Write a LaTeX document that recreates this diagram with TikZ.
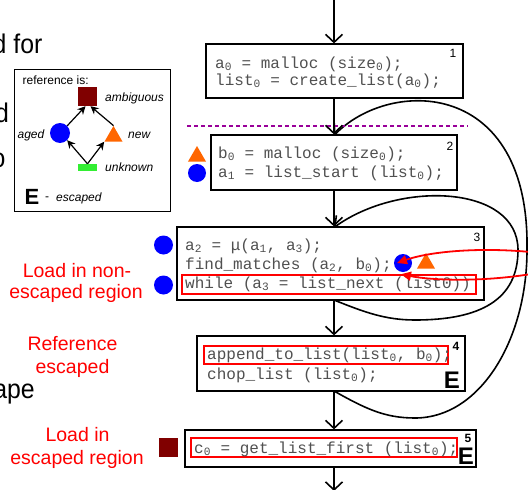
\documentclass[tikz,border=0pt]{standalone}
\usepackage{fontspec}
\setmainfont{Liberation Sans}
\newfontfamily\codefont{Liberation Mono}
\usetikzlibrary{arrows.meta,shapes.geometric,calc}
\definecolor{codegray}{HTML}{505050}
\definecolor{darkred}{HTML}{800000}
\definecolor{orng}{HTML}{FF6600}
\definecolor{lgreen}{HTML}{33EE33}
\definecolor{purp}{HTML}{990099}
\begin{document}
\begin{tikzpicture}[x=1pt,y=-1pt,
  codebox/.style={draw, line width=1.2pt, inner sep=0pt, fill=white},
  code/.style={font=\codefont\fontsize{16}{18}\selectfont, text=codegray, anchor=base west, inner sep=0pt},
  redbox/.style={draw=red, line width=1.2pt, inner sep=0pt},
  numlab/.style={font=\fontsize{12}{14}\selectfont, anchor=base, inner sep=0pt},
  bigE/.style={font=\bfseries\fontsize{24}{26}\selectfont, anchor=base, inner sep=0pt},
  flow/.style={line width=1.6pt, -{Straight Barb[length=8pt,width=17pt]}},
  loopline/.style={line width=1.6pt, -{Straight Barb[length=8pt,width=17pt]}},
  bluedot/.style={circle, fill=blue, minimum size=18pt, inner sep=0pt},
  tri/.style={regular polygon, regular polygon sides=3, fill=orng, minimum size=20.8pt, inner sep=0pt},
  redsq/.style={rectangle, fill=darkred, minimum size=19pt, inner sep=0pt},
  redlab/.style={font=\fontsize{19.5}{22}\selectfont, text=red, anchor=base, inner sep=0pt},
  legtxt/.style={font=\itshape\fontsize{12}{14}\selectfont, inner sep=0pt},
  legarrow/.style={line width=1.2pt, -{Stealth[length=8pt,width=8pt]}},
  redarrow/.style={draw=red, line width=1.8pt, -{Triangle[length=10pt,width=9pt]}},
  frag/.style={font=\fontsize{27}{30}\selectfont, inner sep=0pt, xscale=0.92}
]
\useasboundingbox (0,0) rectangle (528,490);
\fill[white] (0,0) rectangle (528,490);

% left-edge text fragments (cropped in the original)
\node[frag, anchor=base west] (f1) at (-7.5,53) {d for};
\node[frag, anchor=base east] (f2) at (9,122) {d};
\node[frag, anchor=base east] (f3) at (5.5,167) {o};
\node[frag, anchor=base east] (f4) at (35,398) {ape};

% legend
\node[draw, line width=1pt, minimum width=156pt, minimum height=142pt, inner sep=0pt] (legend) at (92,140) {};
\node[font=\fontsize{12}{14}\selectfont, anchor=base west, inner sep=0pt] (lref) at (22.5,84) {reference is:};
\node[redsq] (lamb) at (87.5,96.5) {};
\node[circle, fill=blue, minimum size=20pt, inner sep=0pt] (laged) at (60,133) {};
\node[tri] (lnew) at (113.5,136.4) {};
\node[rectangle, fill=lgreen, minimum width=19pt, minimum height=7pt, inner sep=0pt] (lunk) at (87.5,167.5) {};
\node[legtxt, anchor=base west] (tamb) at (105,101) {ambiguous};
\node[legtxt, anchor=base east] (taged) at (44.5,138) {aged};
\node[legtxt, anchor=base west] (tnew) at (128,138) {new};
\node[legtxt, anchor=base west] (tunk) at (105,171) {unknown};
\node[font=\bfseries\fontsize{22}{24}\selectfont, anchor=base, inner sep=0pt] (lE) at (32,204) {E};
\node[font=\fontsize{12}{14}\selectfont, anchor=base, inner sep=0pt] (ldash) at (47,200) {-};
\node[legtxt, anchor=base west] (tesc) at (56,201) {escaped};
\draw[legarrow] (lunk.north) -- (laged.south east);
\draw[legarrow] (lunk.north) -- (lnew.corner 2);
\draw[legarrow] (laged.north east) -- ($(lamb.south)+(-2,0)$);
\draw[legarrow] (lnew.corner 1) -- ($(lamb.south)+(3,0)$);

% spine coordinates
\coordinate (top) at (334,0);
\coordinate (bot) at (334,491);

% loops (behind the boxes)
\coordinate (oB) at (415,418);
\coordinate (oR) at (527,250);
\coordinate (iB) at (415,320);
\coordinate (iR) at (518,250);
\coordinate (b4s) at (334,391);
\coordinate (b3s) at (334,300);
\draw[loopline] (b4s) .. controls (366,409) and (385,418) .. (oB)
   .. controls (480,418) and (527,340) .. (oR)
   .. controls (530,78) and (390,78) .. (334,135.5);
\draw[loopline] (b3s) .. controls (364,312) and (385,320) .. (iB)
   .. controls (480,320) and (518,300) .. (iR)
   .. controls (518,185) and (400,180) .. (334,227.5);

% boxes
\node[codebox, minimum width=257pt, minimum height=54pt] (b1) at (334.5,71) {};
\node[codebox, minimum width=246pt, minimum height=55pt] (b2) at (334,162.5) {};
\node[codebox, minimum width=307pt, minimum height=73pt] (b3) at (330.5,263.5) {};
\node[codebox, minimum width=268pt, minimum height=55pt] (b4) at (331,363.5) {};
\node[codebox, minimum width=291pt, minimum height=37pt] (b5) at (330.5,448.5) {};

% box numbers
\node[numlab] (n1) at (453,57) {1};
\node[numlab] (n2) at (450,150) {2};
\node[numlab] (n3) at (477,241) {3};
\node[numlab, font=\bfseries\fontsize{12}{14}\selectfont] (n4) at (456,350) {4};
\node[numlab, font=\bfseries\fontsize{12}{14}\selectfont] (n5) at (468,442) {5};
\node[bigE] (e4) at (452,388) {E};
\node[bigE] (e5) at (466,464) {E};

% red highlight boxes
\node[redbox, minimum width=294pt, minimum height=19pt] (r3) at (329,284.5) {};
\node[redbox, minimum width=244pt, minimum height=18pt] (r4) at (326,355) {};
\node[redbox, minimum width=266pt, minimum height=19pt] (r5) at (324,447.5) {};

% code
\node[code] (c11) at (215,68) {a\textsubscript{0} = malloc (size\textsubscript{0});};
\node[code] (c12) at (215,85) {list\textsubscript{0} = create\_list(a\textsubscript{0});};
\node[code] (c21) at (218,158) {b\textsubscript{0} = malloc (size\textsubscript{0});};
\node[code] (c22) at (218,177) {a\textsubscript{1} = list\_start (list\textsubscript{0});};
\node[code] (c31) at (185,250) {a\textsubscript{2} = μ(a\textsubscript{1}, a\textsubscript{3});};
\node[code] (c32) at (185,269) {find\_matches (a\textsubscript{2}, b\textsubscript{0});};
\node[code] (c33) at (185,288) {while (a\textsubscript{3} = list\_next (list0))};
\node[code] (c41) at (207,359) {append\_to\_list(list\textsubscript{0}, b\textsubscript{0});};
\node[code] (c42) at (207,379) {chop\_list (list\textsubscript{0});};
\node[code] (c51) at (194,453) {c\textsubscript{0} = get\_list\_first (list\textsubscript{0});};

% markers
\node[tri] (m2t) at (197,156.4) {};
\node[bluedot] (m2c) at (197,173) {};
\node[bluedot, minimum size=19pt] (m3a) at (163.5,245) {};
\node[bluedot, minimum size=19pt] (m3b) at (163.5,285) {};
\node[bluedot] (m3c) at (403,263) {};
\node[tri] (m3t) at (426,263.4) {};
\node[redsq] (m5) at (168.5,447.5) {};

% dashed separator
\coordinate (dl) at (187,126);
\coordinate (dr) at (468,126);
\draw[purp, line width=1.8pt, dash pattern=on 4pt off 3pt] (dl) -- (dr);

% flow arrows
\draw[flow] (top) -- (b1.north -| top);
\draw[flow] (b1.south -| top) -- (b2.north -| top);
\draw[flow] (b2.south -| top) -- (b3.north -| top);
\draw[flow] (b3.south -| top) -- (b4.north -| top);
\draw[flow] (b4.south -| top) -- (b5.north -| top);
\draw[flow] (b5.south -| top) -- (bot);

% red arrows (coming from beyond the right edge)
\coordinate (rsrc) at (585,261);
\draw[redarrow] (rsrc) .. controls (520,245) and (440,248) .. ($(m3c.center)+(-6,0)$);
\draw[redarrow] (rsrc) .. controls (520,283) and (440,282) .. ($(m3c.south)+(-2,2)$);

% red labels
\node[redlab] (t1a) at (77,277) {Load in non-};
\node[redlab] (t1b) at (76,298) {escaped region};
\node[redlab] (t2a) at (72.5,350) {Reference};
\node[redlab] (t2b) at (72.5,373) {escaped};
\node[redlab] (t3a) at (77.5,441) {Load in};
\node[redlab] (t3b) at (77,464) {escaped region};
\end{tikzpicture}
\end{document}
